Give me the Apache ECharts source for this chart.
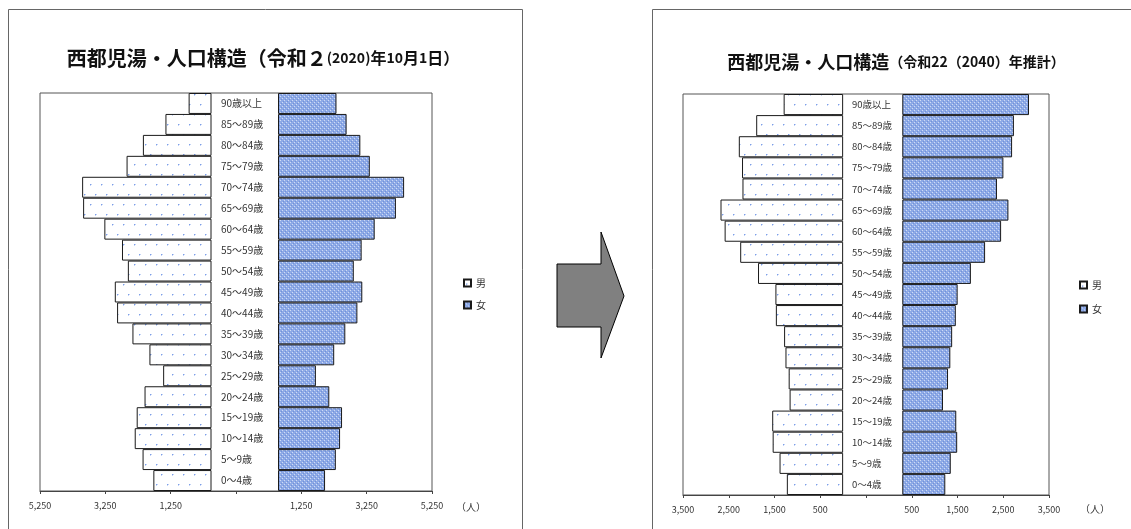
<!DOCTYPE html>
<html>
<head>
<meta charset="utf-8">
<script src="https://cdn.jsdelivr.net/npm/echarts/dist/echarts.min.js"></script>
<style>
html,body{margin:0;padding:0;background:#fff;}
#c{width:1131px;height:529px;}
</style>
</head>
<body>
<div id="c"></div>
<script>
// ---- data (bottom to top) ----
const categories = ['0～4歳','5～9歳','10～14歳','15～19歳','20～24歳','25～29歳','30～34歳','35～39歳','40～44歳','45～49歳','50～54歳','55～59歳','60～64歳','65～69歳','70～74歳','75～79歳','80～84歳','85～89歳','90歳以上'];
const male2020   = [1780, 2110, 2350, 2290, 2050, 1480, 1900, 2420, 2890, 2960, 2560, 2740, 3280, 3930, 3960, 2600, 2100, 1410, 700];
const female2020 = [1440, 1770, 1900, 1960, 1570, 1160, 1720, 2060, 2430, 2580, 2320, 2560, 2960, 3610, 3860, 2810, 2520, 2100, 1790];
const male2040   = [1230, 1390, 1540, 1550, 1170, 1190, 1260, 1290, 1470, 1480, 1860, 2250, 2590, 2680, 2200, 2210, 2280, 1900, 1300];
const female2040 = [ 940, 1060, 1200, 1180,  890, 1000, 1050, 1090, 1170, 1210, 1500, 1810, 2160, 2320, 2070, 2210, 2400, 2440, 2770];
const ticks2020 = ['5,250','3,250','1,250','','1,250','3,250','5,250'];
const ticks2040 = ['3,500','2,500','1,500','500','','500','1,500','2,500','3,500'];
const legendNames = ['男','女'];
const unitLabel = '（人）';
const title2020 = ['西都児湯・人口構造（令和２', '(2020)', '年', '10', '月', '1', '日）'];
const title2040 = ['西都児湯・人口構造', '（令和22（2040）年推計）'];

// ---- layout constants (label column spacers in axis units) ----
const GAP = {
  l: { male: 750, female: 1286, min: -6000, max: 6000, interval: 2000 },
  r: { male: 500, female: 793,  min: -4000, max: 4000, interval: 1000 }
};
const FONT = '"Noto Sans CJK JP", "Noto Sans", sans-serif';

function malePattern() {
  const c = document.createElement('canvas'); c.width = 11; c.height = 20;
  const g = c.getContext('2d');
  g.fillStyle = '#ffffff'; g.fillRect(0, 0, 11, 20);
  g.fillStyle = '#7c9ee8'; g.fillRect(2, 4, 1, 1); g.fillRect(7, 14, 1, 1);
  g.fillStyle = '#c3d3f5'; g.fillRect(3, 4, 1, 1); g.fillRect(8, 14, 1, 1); g.fillRect(2, 5, 1, 1); g.fillRect(7, 15, 1, 1);
  return { image: c, repeat: 'repeat' };
}
function femalePattern() {
  const c = document.createElement('canvas'); c.width = 4; c.height = 4;
  const g = c.getContext('2d');
  g.fillStyle = '#8eaae6'; g.fillRect(0, 0, 4, 4);
  g.fillStyle = '#cfdbf5'; g.fillRect(0, 0, 1, 1); g.fillRect(2, 2, 1, 1);
  g.fillStyle = '#7191da'; g.fillRect(1, 3, 1, 1); g.fillRect(3, 1, 1, 1);
  return { image: c, repeat: 'repeat' };
}
const maleStyle = { color: malePattern(), borderColor: '#1a1a1a', borderWidth: 1 };
const femaleStyle = { color: femalePattern(), borderColor: '#1a1a1a', borderWidth: 1 };

function panelSeries(idx, male, female, gap, stackName) {
  const base = { type: 'bar', stack: stackName, xAxisIndex: idx, yAxisIndex: idx, barCategoryGap: '0%', animation: false };
  return [
    Object.assign({}, base, { name: '_ms' + idx, silent: true, data: categories.map(() => -gap.male), itemStyle: { color: 'transparent', borderWidth: 0 } }),
    Object.assign({}, base, { name: legendNames[0], data: male.map(v => -v), itemStyle: maleStyle }),
    Object.assign({}, base, { name: '_fs' + idx, silent: true, data: categories.map(() => gap.female), itemStyle: { color: 'transparent', borderWidth: 0 } }),
    Object.assign({}, base, { name: legendNames[1], data: female, itemStyle: femaleStyle })
  ];
}

function xAxisFor(idx, gap, ticks, fs) {
  return {
    type: 'value', gridIndex: idx, min: gap.min, max: gap.max, interval: gap.interval,
    axisLine: { show: true, lineStyle: { color: '#444', width: 1 } },
    axisTick: { show: true, length: 3, lineStyle: { color: '#444' } },
    splitLine: { show: false },
    axisLabel: {
      fontSize: fs, color: '#333', margin: 10, fontFamily: FONT,
      formatter: v => ticks[Math.round((v - gap.min) / gap.interval)] || ''
    }
  };
}
function yAxisFor(idx, margin, fs) {
  return {
    type: 'category', gridIndex: idx, data: categories,
    axisLine: { show: false }, axisTick: { show: false }, splitLine: { show: false },
    axisLabel: { inside: true, margin: margin, fontSize: fs, color: '#333', fontFamily: FONT, align: 'left' }
  };
}

const chart = echarts.init(document.getElementById('c'));
chart.setOption({
  animation: false,
  backgroundColor: '#fff',
  title: [
    {
      left: 258, top: 43, textAlign: 'center',
      text: '{a|' + title2020[0] + '}{d|' + title2020[1] + '}{b|' + title2020[2] + '}{d|' + title2020[3] + '}{b|' + title2020[4] + '}{d|' + title2020[5] + '}{b|' + title2020[6] + '}',
      textStyle: {
        rich: {
          a: { fontSize: 20, fontWeight: 'bold', color: '#111', fontFamily: FONT },
          b: { fontSize: 16, fontWeight: 'bold', color: '#111', fontFamily: FONT },
          d: { fontSize: 14, fontWeight: 'bold', color: '#111', fontFamily: FONT }
        }
      }
    },
    {
      left: 891, top: 48, textAlign: 'center',
      text: '{a|' + title2040[0] + '}{b|' + title2040[1] + '}',
      textStyle: {
        rich: {
          a: { fontSize: 18, fontWeight: 'bold', color: '#111', fontFamily: FONT },
          b: { fontSize: 14, fontWeight: 'bold', color: '#111', fontFamily: FONT }
        }
      }
    }
  ],
  legend: [
    { left: 458, top: 273, orient: 'vertical', itemWidth: 7, itemHeight: 7, itemGap: 12, icon: 'rect', selectedMode: false,
      data: legendNames, textStyle: { fontSize: 10, color: '#333', fontFamily: FONT } },
    { left: 1074, top: 275, orient: 'vertical', itemWidth: 7, itemHeight: 7, itemGap: 14, icon: 'rect', selectedMode: false,
      data: legendNames, textStyle: { fontSize: 10, color: '#333', fontFamily: FONT } }
  ],
  grid: [
    { left: 40, top: 93, width: 392, height: 398, show: true, borderColor: '#555', borderWidth: 1, backgroundColor: '#fff' },
    { left: 683, top: 94, width: 366, height: 401, show: true, borderColor: '#555', borderWidth: 1, backgroundColor: '#fff' }
  ],
  xAxis: [ xAxisFor(0, GAP.l, ticks2020, 9), xAxisFor(1, GAP.r, ticks2040, 9) ],
  yAxis: [ yAxisFor(0, 181, 10), yAxisFor(1, 169, 9.5) ],
  series: [].concat(
    panelSeries(0, male2020, female2020, GAP.l, 'p0'),
    panelSeries(1, male2040, female2040, GAP.r, 'p1')
  ),
  graphic: [
    { type: 'rect', shape: { x: 8.5, y: 9.5, width: 514, height: 540 }, style: { fill: 'none', stroke: '#666', lineWidth: 1 }, z: -10, silent: true },
    { type: 'rect', shape: { x: 652.5, y: 9.5, width: 490, height: 540 }, style: { fill: 'none', stroke: '#666', lineWidth: 1 }, z: -10, silent: true },
    { type: 'polygon', shape: { points: [[557, 264], [601, 264], [601, 232], [624, 296], [601, 358], [601, 327], [557, 327]] },
      style: { fill: '#808080', stroke: '#000', lineWidth: 1 }, silent: true },
    { type: 'text', left: 456, top: 502, style: { text: unitLabel, fontSize: 10, fill: '#333', fontFamily: FONT } },
    { type: 'text', left: 1080, top: 504, style: { text: unitLabel, fontSize: 10, fill: '#333', fontFamily: FONT } }
  ]
});
</script>
</body>
</html>
